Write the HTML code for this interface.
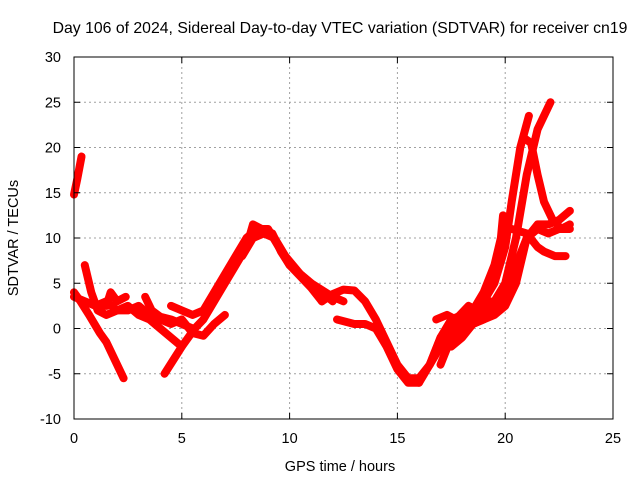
<!DOCTYPE html>
<html><head><meta charset="utf-8"><style>
body{margin:0;background:#fff}
svg{display:block;font-family:"Liberation Sans",sans-serif}
</style></head><body>
<svg id="c" width="640" height="480">
<rect width="640" height="480" fill="#fff"/>
<text x="340" y="33" font-size="15.8" text-anchor="middle">Day 106 of 2024, Sidereal Day-to-day VTEC variation (SDTVAR) for receiver cn19</text>
<text x="340" y="471" font-size="14.5" text-anchor="middle">GPS time / hours</text>
<text transform="translate(18,238) rotate(-90)" font-size="14.5" text-anchor="middle">SDTVAR / TECUs</text>
<g id="grid"></g>
<g id="series"></g>
<g id="axes"></g>
</svg>
<script>
const xTicks=[0,5,10,15,20,25];
const yTicks=[-10,-5,0,5,10,15,20,25,30];
const trackA=[[0,14.8],[0.15,16.5],[0.35,19]];
const trackB=[[0,4],[0.3,3],[0.7,1.5],[1.2,-0.5],[1.5,-1.5],[1.8,-3],[2.3,-5.5]];
const trackC=[[0.5,7],[0.8,4],[1.1,2],[1.5,1.5],[2,2],[2.5,2.5],[3,1.5],[3.5,1],[4,0],[4.5,-1],[5,-2]];
const trackD=[[0,3.5],[0.5,3],[1,2.5],[1.5,2.5],[1.7,4],[2,3],[2.4,3.5]];
const trackE=[[1,2.5],[1.5,3],[2,2],[2.5,2],[3,2.5],[3.5,1.5],[4,1],[4.5,0.5],[5,1],[5.5,-0.5],[6,-0.8],[6.5,0.5],[7,1.5]];
const trackF=[[3.3,3.5],[3.6,2],[4,1.3],[4.5,1],[5,0.5],[5.5,0]];
const trackG=[[4.2,-5],[4.6,-3.5],[5,-2],[5.3,-1],[5.6,0],[6,1],[6.5,3],[7,5],[7.5,7],[8,9],[8.3,11.5],[8.7,11],[9.2,10.5],[9.6,8.5],[10,7],[11,5],[12,3.5],[12.5,3]];
const trackH=[[4.5,2.5],[5,2],[5.5,1.5],[6,2],[6.5,4],[7,6],[7.5,8],[8,10],[8.5,11],[9,11],[9.5,9],[10,7],[11,4.5],[11.5,3]];
const trackH2=[[7.8,8],[8.3,10],[8.8,10.5],[9.3,10],[9.8,8],[10.5,6],[11.5,4],[12,3]];
const trackI=[[11.5,3],[12,3.8],[12.5,4.3],[13,4.2],[13.5,3],[14,1],[14.5,-1.5],[15,-4],[15.5,-5.5],[16,-5.5],[16.5,-4],[17,-1],[17.5,1],[18,1.5]];
const trackJ=[[12.2,1],[13,0.5],[13.5,0.5],[14,0],[14.5,-2],[15,-4.5],[15.5,-6],[16,-6]];
const trackR1=[[16,-6],[16.5,-4],[17,-1],[17.5,0.5],[18,1],[18.5,2],[19,4],[19.5,7],[19.8,10],[19.9,12.5]];
const trackR2=[[16.5,-4],[17,-2],[17.5,0],[18,1],[18.5,1.5],[19,3],[19.5,5],[20,9],[20.3,14],[20.7,20],[21.1,23.5]];
const trackR3=[[17,-4],[17.5,-1],[18,0],[18.5,1],[19,2],[19.5,3],[20,5],[20.5,10],[21,17],[21.5,22],[22.1,25]];
const trackR4=[[17.5,-2],[18,-1],[18.5,0.5],[19,1],[19.5,2],[20,4],[20.5,7],[21,10],[21.5,11.5],[22,11.5],[22.5,12],[23,13]];
const trackR5=[[18,0],[19,1],[19.5,1.5],[20,2.5],[20.5,5],[20.8,8],[21,10],[21.5,11],[22,10.5],[22.5,11],[23,11]];
const trackR6=[[20.9,21],[21.2,20.5],[21.5,17],[21.8,14],[22.2,12],[22.6,11],[23,11.5]];
const trackR7=[[20.3,11],[21,10.5],[21.5,9],[21.8,8.5],[22.3,8],[22.8,8]];
const trackK=[[16.8,1],[17.3,1.5],[17.7,1],[18.3,2.5],[18.7,2],[19.3,3]];
const tracks=[trackA,trackB,trackC,trackD,trackE,trackF,trackG,trackH,trackH2,trackI,trackJ,trackR1,trackR2,trackR3,trackR4,trackR5,trackR6,trackR7,trackK];
const L=74,R=613,T=57,B=419;
const sx=v=>L+(v-0)/25*(R-L);
const sy=v=>B-(v+10)/40*(B-T);
const NS='http://www.w3.org/2000/svg';
const grid=document.getElementById('grid'),axes=document.getElementById('axes'),ser=document.getElementById('series');
function mk(tag,attrs,parent){const e=document.createElementNS(NS,tag);for(const k in attrs)e.setAttribute(k,attrs[k]);parent.appendChild(e);return e;}
xTicks.forEach(t=>{const x=sx(t);
 if(t>0&&t<25){const g=mk('line',{x1:x,x2:x,y1:T,y2:B,stroke:'#a0a0a0','stroke-dasharray':'2,3'},grid);
 
 }
 mk('line',{x1:x,x2:x,y1:B,y2:B-6,stroke:'#000'},axes);mk('line',{x1:x,x2:x,y1:T,y2:T+6,stroke:'#000'},axes);
 const tx=mk('text',{x:x,y:B+24,'font-size':14.5,'text-anchor':'middle'},axes);tx.textContent=t;
 
 });
yTicks.forEach(t=>{const y=sy(t);
 if(t>-10&&t<30){const g=mk('line',{x1:L,x2:R,y1:y,y2:y,stroke:'#a0a0a0','stroke-dasharray':'2,3'},grid);
 
 }
 mk('line',{x1:L,x2:L+6,y1:y,y2:y,stroke:'#000'},axes);mk('line',{x1:R,x2:R-6,y1:y,y2:y,stroke:'#000'},axes);
 const tx=mk('text',{x:L-13,y:y+5,'font-size':14.5,'text-anchor':'end'},axes);tx.textContent=t;
 
 });
const frame=mk('rect',{x:L,y:T,width:R-L,height:B-T,fill:'none',stroke:'#000'},axes);


tracks.forEach(tr=>{
 const p=mk('polyline',{points:tr.map(d=>sx(d[0])+','+sy(d[1])).join(' '),fill:'none',stroke:'#ff0000','stroke-width':8,'stroke-linejoin':'round','stroke-linecap':'round'},ser);
 
 
});
</script>
</body></html>
